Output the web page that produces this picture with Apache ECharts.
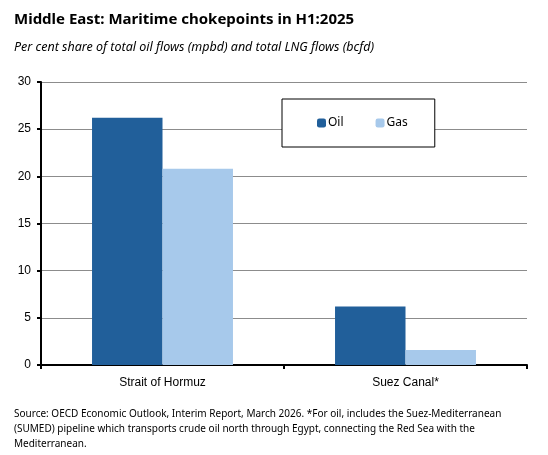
<!DOCTYPE html>
<html>
<head>
<meta charset="utf-8">
<script src="https://cdn.jsdelivr.net/npm/echarts@6/dist/echarts.min.js"></script>
<style>
  html, body { margin: 0; padding: 0; background: #fff; }
  #chart { width: 548px; height: 455px; }
</style>
</head>
<body>
<div id="chart"></div>
<script>
// data
var categories = ['Strait of Hormuz', 'Suez Canal*'];
var oilShare = [26.2, 6.2];
var gasShare = [20.8, 1.6];
var yTicks = [0, 5, 10, 15, 20, 25, 30];

var font = '"Noto Sans", "Liberation Sans", sans-serif';
var chart = echarts.init(document.getElementById('chart'));

var option = {
  animation: false,
  backgroundColor: '#fff',
  title: [
    {
      text: 'Middle East: Maritime chokepoints in H1:2025',
      left: 9,
      top: 7,
      textStyle: { fontFamily: font, fontSize: 15, fontWeight: 'bold', color: '#000' }
    },
    {
      text: 'Per cent share of total oil flows (mpbd) and total LNG flows (bcfd)',
      left: 9,
      top: 36,
      textStyle: { fontFamily: font, fontSize: 12.5, fontStyle: 'italic', fontWeight: 'normal', color: '#000' }
    },
    {
      text: 'Source: OECD Economic Outlook, Interim Report, March 2026. *For oil, includes the Suez-Mediterranean\n(SUMED) pipeline which transports crude oil north through Egypt, connecting the Red Sea with the\nMediterranean.',
      left: 9,
      top: 402,
      textStyle: { fontFamily: font, fontSize: 10, fontWeight: 'normal', color: '#000', lineHeight: 15 }
    }
  ],
  legend: {
    left: 282,
    top: 99,
    padding: [18, 27, 18, 35],
    itemWidth: 9,
    itemHeight: 9,
    itemGap: 32,
    borderColor: '#000',
    borderWidth: 1,
    backgroundColor: '#fff',
    textStyle: { fontFamily: font, fontSize: 12, color: '#000', padding: [0, 0, 0, -3] },
    data: ['Oil', 'Gas']
  },
  grid: {
    left: 41,
    right: 21,
    top: 82,
    bottom: 90
  },
  xAxis: {
    type: 'category',
    data: categories,
    axisLine: { lineStyle: { color: '#000', width: 2 } },
    axisTick: { show: true, length: 4, lineStyle: { color: '#000', width: 2 } },
    axisLabel: { fontFamily: '"Liberation Sans", Arial, sans-serif', fontSize: 12, color: '#000', margin: 12 }
  },
  yAxis: {
    type: 'value',
    min: yTicks[0],
    max: yTicks[yTicks.length - 1],
    interval: 5,
    axisLine: { show: true, lineStyle: { color: '#000', width: 2 } },
    axisTick: { show: true, length: 4, lineStyle: { color: '#000', width: 2 } },
    axisLabel: { fontFamily: '"Liberation Sans", Arial, sans-serif', fontSize: 12, color: '#000', margin: 10 },
    splitLine: { lineStyle: { color: '#8c8c8c', width: 1 } }
  },
  series: [
    {
      name: 'Oil',
      type: 'bar',
      data: oilShare,
      itemStyle: { color: '#215f9a' },
      barGap: '0%',
      barCategoryGap: '42%'
    },
    {
      name: 'Gas',
      type: 'bar',
      data: gasShare,
      itemStyle: { color: '#a7c9eb' },
      barGap: '0%',
      barCategoryGap: '42%'
    }
  ]
};

chart.setOption(option);
</script>
</body>
</html>
